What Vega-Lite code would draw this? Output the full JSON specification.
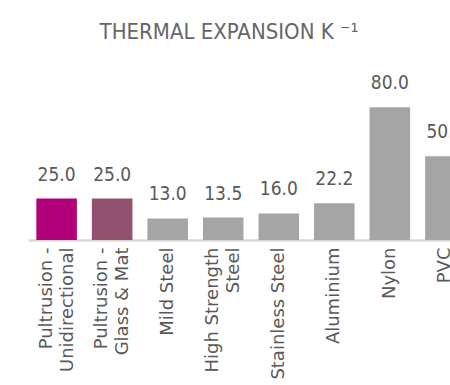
{
  "$schema": "https://vega.github.io/schema/vega-lite/v6.json",
  "autosize": "none",
  "padding": {"left": 28, "top": 74, "right": 0, "bottom": 145},
  "width": 446,
  "height": 166,
  "background": "white",
  "title": {
    "text": "THERMAL EXPANSION K ⁻¹",
    "font": "Liberation Sans Narrow, DejaVu Sans Condensed, Roboto",
    "fontSize": 22,
    "fontWeight": "normal",
    "color": "#666666",
    "anchor": "middle",
    "dx": -22,
    "offset": 30
  },
  "data": {
    "values": [
      {"material": "Pultrusion -|Unidirectional", "value": 25.0, "group": "Unidirectional"},
      {"material": "Pultrusion -|Glass  & Mat", "value": 25.0, "group": "Glass & Mat"},
      {"material": "Mild Steel", "value": 13.0, "group": "Other"},
      {"material": "High Strength|Steel", "value": 13.5, "group": "Other"},
      {"material": "Stainless Steel", "value": 16.0, "group": "Other"},
      {"material": "Aluminium", "value": 22.2, "group": "Other"},
      {"material": "Nylon", "value": 80.0, "group": "Other"},
      {"material": "PVC", "value": 50.4, "group": "Other"}
    ]
  },
  "encoding": {
    "x": {
      "field": "material",
      "type": "nominal",
      "sort": null,
      "scale": {"paddingInner": 0.27, "paddingOuter": 0.15},
      "axis": {
        "title": null,
        "labelAngle": -90,
        "labelAlign": "right",
        "labelBaseline": "middle",
        "labelExpr": "split(datum.value, '|')",
        "labelFont": "DejaVu Sans",
        "labelFontSize": 18,
        "labelLineHeight": 21,
        "labelColor": "#595959",
        "labelPadding": 7,
        "labelOffset": {"condition": {"test": "indexof(datum.value, '|') >= 0", "value": -10}, "value": 0},
        "labelLimit": 300,
        "ticks": false,
        "domainColor": "#D9D9D9",
        "domainWidth": 2.5,
        "grid": false
      }
    },
    "y": {
      "field": "value",
      "type": "quantitative",
      "scale": {"domain": [0, 100], "nice": false},
      "axis": null
    }
  },
  "layer": [
    {
      "mark": {"type": "bar"},
      "encoding": {
        "color": {
          "field": "group",
          "type": "nominal",
          "scale": {
            "domain": ["Unidirectional", "Glass & Mat", "Other"],
            "range": ["#B1007A", "#92506F", "#A5A5A6"]
          },
          "legend": null
        }
      }
    },
    {
      "mark": {
        "type": "text",
        "baseline": "alphabetic",
        "dy": -18,
        "font": "Liberation Sans Narrow, DejaVu Sans Condensed, Roboto",
        "fontSize": 19,
        "color": "#595959"
      },
      "encoding": {
        "text": {"field": "value", "type": "quantitative", "format": ".1f"}
      }
    }
  ],
  "config": {
    "view": {"stroke": null}
  }
}
